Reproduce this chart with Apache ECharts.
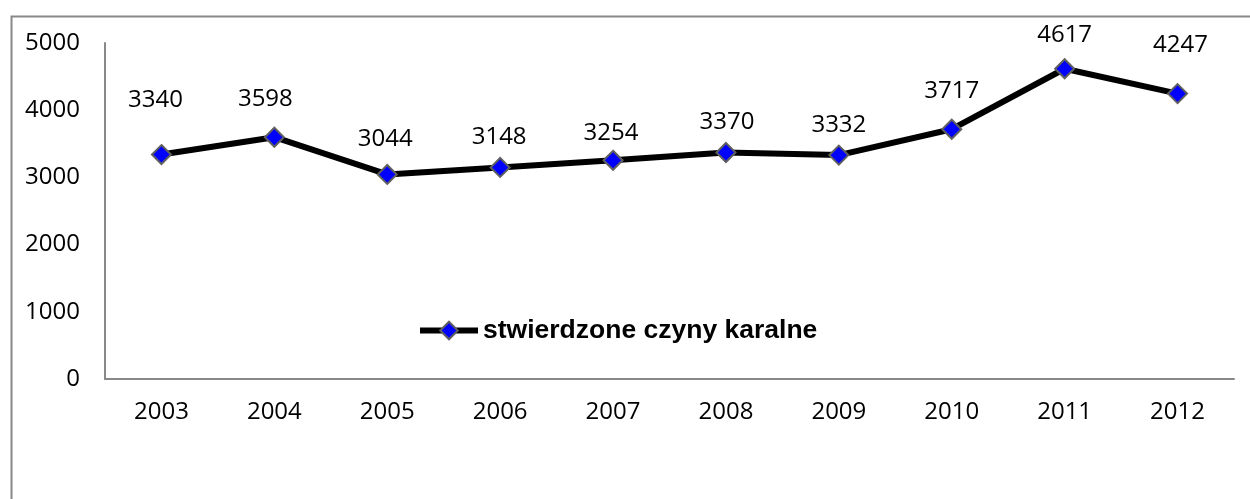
<!DOCTYPE html>
<html lang="pl">
  <head>
    <meta charset="UTF-8" />
    <title>stwierdzone czyny karalne</title>
    <script src="https://cdn.jsdelivr.net/npm/echarts@6/dist/echarts.min.js"></script>
    <style>
      html, body { margin: 0; padding: 0; background: #fff; }
      #main { width: 1250px; height: 499px; }
    </style>
  </head>
  <body>
    <div id="main"></div>
    <script>
      // dane z wykresu
      var years = ["2003", "2004", "2005", "2006", "2007", "2008", "2009", "2010", "2011", "2012"];
      var values = [3340, 3598, 3044, 3148, 3254, 3370, 3332, 3717, 4617, 4247];
      var yTicks = [0, 1000, 2000, 3000, 4000, 5000];
      var seriesName = "stwierdzone czyny karalne";

      // przesunięcia etykiet (jak w oryginale, ręcznie przesunięte)
      var labelShift = [[-6, -54], [-9, -38], [-2, -35], [-1, -30], [-2, -27], [1, -30], [0, -30], [0, -38], [0, -34], [3, -48]];

      var chart = echarts.init(document.getElementById("main"));
      var font = "'Open Sans', sans-serif";

      var option = {
        animation: false,
        graphic: [{
          type: "rect",
          left: 9, top: 14,
          shape: { width: 1260, height: 500 },
          style: { fill: "none", stroke: "#888", lineWidth: 2 },
          silent: true
        }],
        grid: { left: 105, right: 16, top: 43, bottom: 120 },
        legend: {
          data: [seriesName],
          left: 412, top: 312,
          itemWidth: 58, itemHeight: 22, itemGap: 4,
          lineStyle: { width: 6 },
          textStyle: { fontFamily: "'Liberation Sans', Arial, sans-serif", fontWeight: "bold", fontSize: 26.5, color: "#000" }
        },
        xAxis: {
          type: "category",
          data: years,
          axisLine: { lineStyle: { color: "#888", width: 2 } },
          axisTick: { show: false },
          axisLabel: { fontFamily: font, fontSize: 24, color: "#000", margin: 21 }
        },
        yAxis: {
          type: "value",
          min: yTicks[0], max: yTicks[yTicks.length - 1], interval: 1000,
          axisLine: { show: true, lineStyle: { color: "#888", width: 2 } },
          axisTick: { show: false },
          splitLine: { show: false },
          axisLabel: { fontFamily: font, fontSize: 24, color: "#000", margin: 25, formatter: function (v) { return String(v); } }
        },
        series: [{
          name: seriesName,
          type: "line",
          data: values.map(function (v, i) {
            return { value: v, label: { offset: [labelShift[i][0], labelShift[i][1]] } };
          }),
          symbol: "diamond",
          symbolSize: 19,
          lineStyle: { color: "#000", width: 6 },
          itemStyle: { color: "#0000ff", borderColor: "#5f5f5f", borderWidth: 2 },
          label: {
            show: true,
            position: "inside",
            fontFamily: font, fontSize: 24, color: "#000"
          }
        }]
      };
      chart.setOption(option);
    </script>
  </body>
</html>
